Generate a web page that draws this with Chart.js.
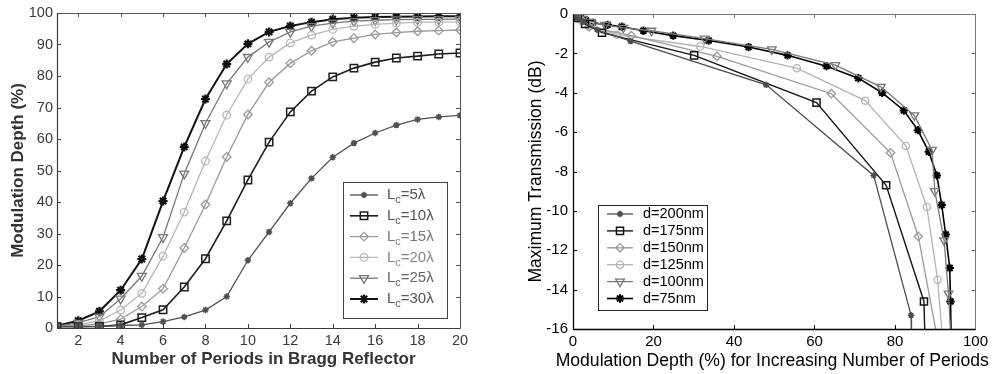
<!DOCTYPE html>
<html><head><meta charset="utf-8">
<script src="https://cdn.jsdelivr.net/npm/chart.js@4"></script>
<style>
html,body{margin:0;padding:0;background:#fff;}
#wrap{position:relative;width:992px;height:374px;overflow:hidden;background:#fff;}
.box{position:absolute;top:0;height:374px;width:496px;}
</style></head><body>
<div id="wrap">
  <div class="box" style="left:0"><canvas id="c1"></canvas></div>
  <div class="box" style="left:496px"><canvas id="c2"></canvas></div>
</div>
<script>
// ---------- LEFT PANEL DATA ----------
const periods = [1,2,3,4,5,6,7,8,9,10,11,12,13,14,15,16,17,18,19,20];
const periodTicks = [2,4,6,8,10,12,14,16,18,20];
const depthTicks = [0,10,20,30,40,50,60,70,80,90,100];
const lcValues = [5,10,15,20,25,30];
const lc5  = [0.5,0.5,0.5,0.8,1.0,2.0,3.5,5.7,10.0,21.5,30.5,39.6,47.5,54.2,58.7,61.9,64.4,66.2,67.0,67.5];
const lc10 = [0.4,0.4,0.5,1.0,3.3,5.8,13.0,22.0,34.0,47.0,59.0,68.6,75.2,79.7,82.5,84.4,85.7,86.3,87.0,87.3];
const lc15 = [0.5,0.7,1.3,2.8,6.8,12.5,25.4,39.2,54.3,67.8,78.0,84.0,88.0,90.8,92.0,93.2,93.8,94.2,94.4,94.6];
const lc20 = [0.5,1.0,2.3,5.7,11.0,22.8,36.8,53.0,67.6,79.0,86.0,90.5,93.0,94.8,95.8,96.4,96.8,97.0,97.1,97.2];
const lc25 = [0.6,1.6,3.6,9.3,16.5,28.8,49.0,65.0,77.6,86.0,90.8,94.0,95.8,96.8,97.4,97.7,97.9,98.0,98.0,98.1];
const lc30 = [0.7,2.3,5.3,12.0,21.9,40.3,57.5,72.7,83.8,90.2,94.0,95.9,97.1,98.0,98.5,98.7,98.8,98.9,99.0,99.0];

// ---------- RIGHT PANEL DATA ----------
const mdTicks = [0,20,40,60,80,100];
const trTicks = [0,-2,-4,-6,-8,-10,-12,-14,-16];
const dValues = [200,175,150,125,100,75];
const d200Depth = [0.3,1.0,2.5,6.0,14.3,48.0,74.7,84.0,84.1];
const d200Trans = [-0.05,-0.2,-0.4,-0.8,-1.38,-3.6,-8.2,-15.3,-17];
const d175Depth = [0.3,1.2,3.0,7.2,30.1,60.5,77.8,87.2,87.5];
const d175Trans = [-0.05,-0.2,-0.5,-0.95,-2.1,-4.5,-8.7,-14.6,-17];
const d150Depth = [0.3,1.0,4.0,14.5,35.8,64.2,78.9,85.8,91.0];
const d150Trans = [-0.05,-0.2,-0.65,-1.1,-2.15,-4.05,-7.05,-11.3,-17];
const d125Depth = [0.3,1.0,2.2,4.5,10.9,31.6,55.6,72.6,82.7,87.9,90.6,92.0];
const d125Trans = [-0.05,-0.15,-0.35,-0.6,-1.05,-1.65,-2.75,-4.4,-6.7,-9.8,-13.5,-17];
const d100Depth = [0.3,1.2,2.5,4.5,8.0,12.5,19.5,32.7,49.4,65.2,76.5,84.8,89.2,89.9,92.2,93.3,94.0];
const d100Trans = [-0.03,-0.12,-0.25,-0.4,-0.55,-0.7,-0.85,-1.25,-1.8,-2.6,-3.7,-5.15,-6.9,-9.0,-11.5,-14.2,-17];
const d75Depth = [0.3,1.0,2.0,3.2,4.9,8.6,12.1,17.5,24.9,33.7,43.6,53.3,63.0,70.9,76.8,82.2,85.7,88.4,90.4,91.6,92.6,93.6,93.8,94.0];
const d75Trans = [-0.02,-0.1,-0.22,-0.33,-0.45,-0.55,-0.65,-0.85,-1.1,-1.35,-1.68,-2.1,-2.65,-3.26,-4.0,-4.9,-5.9,-7.0,-8.2,-9.7,-11.2,-12.9,-14.6,-17];

const FONT = "'Liberation Sans', Arial, Helvetica, sans-serif";
const CLEAR = 'rgba(0,0,0,0)';

// styles (not data)
const leftStyles = [
  {c:'#505050', lw:1.3, ps:'star', r:3.2, pbw:1.6, fill:'#505050'},
  {c:'#1e1e1e', lw:1.6, ps:'rect', r:5.2, pbw:1.5, fill:CLEAR},
  {c:'#9a9a9a', lw:1.3, ps:'rectRot', r:4.3, pbw:1.3, fill:CLEAR},
  {c:'#b8b8b8', lw:1.3, ps:'circle', r:3.8, pbw:1.3, fill:CLEAR},
  {c:'#777777', lw:1.3, ps:'triangle', r:5.2, pbw:1.3, fill:CLEAR, rot:180},
  {c:'#111111', lw:2.0, ps:'star', r:4.5, pbw:2.2, fill:'#111'}
];
const rightStyles = [
  {c:'#4e4e4e', lw:1.3, ps:'star', r:3.2, pbw:1.6, fill:'#4e4e4e'},
  {c:'#151515', lw:1.4, ps:'rect', r:5.0, pbw:1.5, fill:CLEAR},
  {c:'#999999', lw:1.3, ps:'rectRot', r:4.2, pbw:1.3, fill:CLEAR},
  {c:'#b4b4b4', lw:1.3, ps:'circle', r:3.6, pbw:1.3, fill:CLEAR},
  {c:'#787878', lw:1.3, ps:'triangle', r:5.0, pbw:1.3, fill:CLEAR, rot:180},
  {c:'#000000', lw:1.6, ps:'star', r:4.2, pbw:2.0, fill:'#000'}
];

function mkSet(label, pts, s){
  return {label, data:pts, showLine:true, borderColor:s.c, borderWidth:s.lw,
    pointStyle:s.ps, pointRadius:s.r, pointRotation:s.rot||0,
    pointBorderColor:s.c, pointBackgroundColor:s.fill, pointBorderWidth:s.pbw,
    pointHoverRadius:s.r, tension:0, fill:false};
}

// inward ticks + box plugin
const frame = {
  id:'frame',
  afterDatasetsDraw(chart, args, o){
    const {ctx, chartArea:a, scales:{x, y}} = chart;
    const L = o.len;
    ctx.save();
    ctx.lineWidth = 1;
    const seg=(x1,y1,x2,y2,col)=>{ctx.strokeStyle=col;ctx.beginPath();ctx.moveTo(x1,y1);ctx.lineTo(x2,y2);ctx.stroke();};
    x.ticks.forEach(t=>{
      const px = Math.round(x.getPixelForValue(t.value))+0.5;
      seg(px, a.bottom, px, a.bottom-L, o.c1);
      seg(px, a.top, px, a.top+L, o.c2);
    });
    y.ticks.forEach(t=>{
      const py = Math.round(y.getPixelForValue(t.value))+0.5;
      seg(a.left, py, a.left+L, py, o.c1);
      seg(a.right, py, a.right-L, py, o.c2);
    });
    const l=Math.round(a.left)+0.5, r=Math.round(a.right)+0.5, t=Math.round(a.top)+0.5, b=Math.round(a.bottom)+0.5;
    seg(l,t,r,t,o.c2); seg(r,t,r,b,o.c2);
    ctx.lineWidth = o.lw1;
    seg(l,t,l,b,o.c1); seg(l,b,r,b,o.c1);
    ctx.restore();
  }
};

// free x-axis title (not squeezed to chart width)
const xTitle = {
  id:'xTitle',
  afterDraw(chart, args, o){
    if (!o.text) return;
    const {ctx, chartArea:a} = chart;
    ctx.save();
    ctx.font = (o.weight||'normal')+' '+o.size+'px '+FONT;
    ctx.fillStyle = o.color; ctx.textAlign='center'; ctx.textBaseline='middle';
    ctx.fillText(o.text, (a.left+a.right)/2 + (o.dx||0), o.y);
    ctx.restore();
  }
};

// legend plugin
const lgd = {
  id:'lgd',
  afterDraw(chart, args, o){
    const ctx = chart.ctx;
    ctx.save();
    ctx.fillStyle='#fff';
    ctx.fillRect(o.x, o.y, o.w, o.h);
    ctx.strokeStyle=o.border; ctx.lineWidth=1;
    ctx.strokeRect(o.x+0.5, o.y+0.5, o.w, o.h);
    chart.data.datasets.forEach((ds,i)=>{
      const yy = o.y0 + i*o.dy;
      ctx.strokeStyle=ds.borderColor; ctx.lineWidth=ds.borderWidth;
      ctx.beginPath(); ctx.moveTo(o.lx0, yy); ctx.lineTo(o.lx1, yy); ctx.stroke();
      ctx.fillStyle = ds.pointBackgroundColor; ctx.strokeStyle=ds.pointBorderColor; ctx.lineWidth=ds.pointBorderWidth;
      if (Chart.helpers && Chart.helpers.drawPoint){
        Chart.helpers.drawPoint(ctx, {pointStyle:ds.pointStyle, radius:ds.pointRadius, rotation:ds.pointRotation, borderWidth:ds.pointBorderWidth}, (o.lx0+o.lx1)/2, yy);
      }
      ctx.fillStyle = o.textColor[i] || o.textColor[0];
      ctx.textBaseline='middle'; ctx.textAlign='left';
      ctx.font = o.size+'px '+FONT;
      const parts = o.parts[i];
      let tx = o.tx;
      parts.forEach(p=>{
        if (p.sub){
          ctx.font = (o.size*0.72)+'px '+FONT;
          ctx.fillText(p.t, tx, yy+o.size*0.35);
        } else {
          ctx.font = o.size+'px '+FONT;
          ctx.fillText(p.t, tx, yy);
        }
        tx += ctx.measureText(p.t).width;
      });
    });
    ctx.restore();
  }
};

Chart.defaults.font.family = FONT;

// ---------- LEFT CHART ----------
const leftSeries = [lc5, lc10, lc15, lc20, lc25, lc30];
new Chart(document.getElementById('c1'), {
  type:'scatter',
  data:{datasets: leftSeries.map((vals,i)=>mkSet('Lc='+lcValues[i]+'λ', periods.map((p,j)=>({x:p, y:vals[j]})), leftStyles[i]))},
  options:{
    responsive:true, maintainAspectRatio:false, animation:false, devicePixelRatio:1,
    layout:{padding:{left:0, top:13, right:36, bottom:0}},
    events:[],
    plugins:{
      legend:{display:false}, tooltip:{enabled:false},
      frame:{len:4, c1:'#3a3a3a', c2:'#555', lw1:1.2},
      xTitle:{text:'Number of Periods in Bragg Reflector', size:17, weight:'bold', color:'#333', y:359, dx:5},
      lgd:{x:343, y:182, w:104, h:136, y0:195, dy:20.8, lx0:350, lx1:378, tx:387, size:15,
        border:'#444', textColor:['#555','#555','#777','#888','#666','#555'],
        parts: lcValues.map(v=>[{t:'L'},{t:'c',sub:true},{t:'='+v+'λ'}])}
    },
    scales:{
      x:{type:'linear', min:1, max:20,
        afterBuildTicks:s=>{s.ticks = periodTicks.map(v=>({value:v}));},
        afterFit:s=>{s.height=46;},
        grid:{display:false, drawTicks:false, tickLength:0}, border:{display:false},
        ticks:{font:{size:14.5}, color:'#3a3a3a', padding:4, maxRotation:0, autoSkip:false},
        title:{display:false}
      },
      y:{type:'linear', min:0, max:100,
        afterBuildTicks:s=>{s.ticks = depthTicks.map(v=>({value:v}));},
        afterFit:s=>{s.width=57;},
        grid:{display:false, drawTicks:false, tickLength:0}, border:{display:false},
        ticks:{font:{size:14.5}, color:'#3a3a3a', padding:4, autoSkip:false},
        title:{display:true, text:'Modulation Depth (%)', font:{size:17, weight:'bold'}, color:'#333', padding:{top:8, bottom:0}}
      }
    }
  },
  plugins:[frame, lgd, xTitle]
});

// ---------- RIGHT CHART ----------
const rDepth = [d200Depth, d175Depth, d150Depth, d125Depth, d100Depth, d75Depth];
const rTrans = [d200Trans, d175Trans, d150Trans, d125Trans, d100Trans, d75Trans];
new Chart(document.getElementById('c2'), {
  type:'scatter',
  data:{datasets: rDepth.map((xs,i)=>mkSet('d='+dValues[i]+'nm', xs.map((xv,j)=>({x:xv, y:rTrans[i][j]})), rightStyles[i]))},
  options:{
    responsive:true, maintainAspectRatio:false, animation:false, devicePixelRatio:1,
    layout:{padding:{left:0, top:10, right:14, bottom:0}},
    events:[],
    plugins:{
      legend:{display:false}, tooltip:{enabled:false},
      frame:{len:4, c1:'#000', c2:'#777', lw1:1.3},
      xTitle:{text:'Modulation Depth (%) for Increasing Number of Periods', size:17.6, color:'#000', y:361, dx:-2},
      lgd:{x:102, y:205, w:109, h:105, y0:214, dy:16.9, lx0:111, lx1:137, tx:147, size:14.5,
        border:'#222', textColor:['#000'],
        parts: dValues.map(v=>[{t:'d='+v+'nm'}])}
    },
    scales:{
      x:{type:'linear', min:0, max:100,
        afterBuildTicks:s=>{s.ticks = mdTicks.map(v=>({value:v}));},
        afterFit:s=>{s.height=45;},
        grid:{display:false, drawTicks:false, tickLength:0}, border:{display:false},
        ticks:{font:{size:15}, color:'#000', padding:4, maxRotation:0, autoSkip:false},
        title:{display:false}
      },
      y:{type:'linear', min:-16, max:0,
        afterBuildTicks:s=>{s.ticks = trTicks.map(v=>({value:v}));},
        afterFit:s=>{s.width=77;},
        grid:{display:false, drawTicks:false, tickLength:0}, border:{display:false},
        ticks:{font:{size:15}, color:'#000', padding:5, autoSkip:false},
        title:{display:true, text:'Maximum Transmission (dB)', font:{size:17.5}, color:'#000', padding:{top:30, bottom:0}}
      }
    }
  },
  plugins:[frame, lgd, xTitle]
});
</script>
</body></html>
